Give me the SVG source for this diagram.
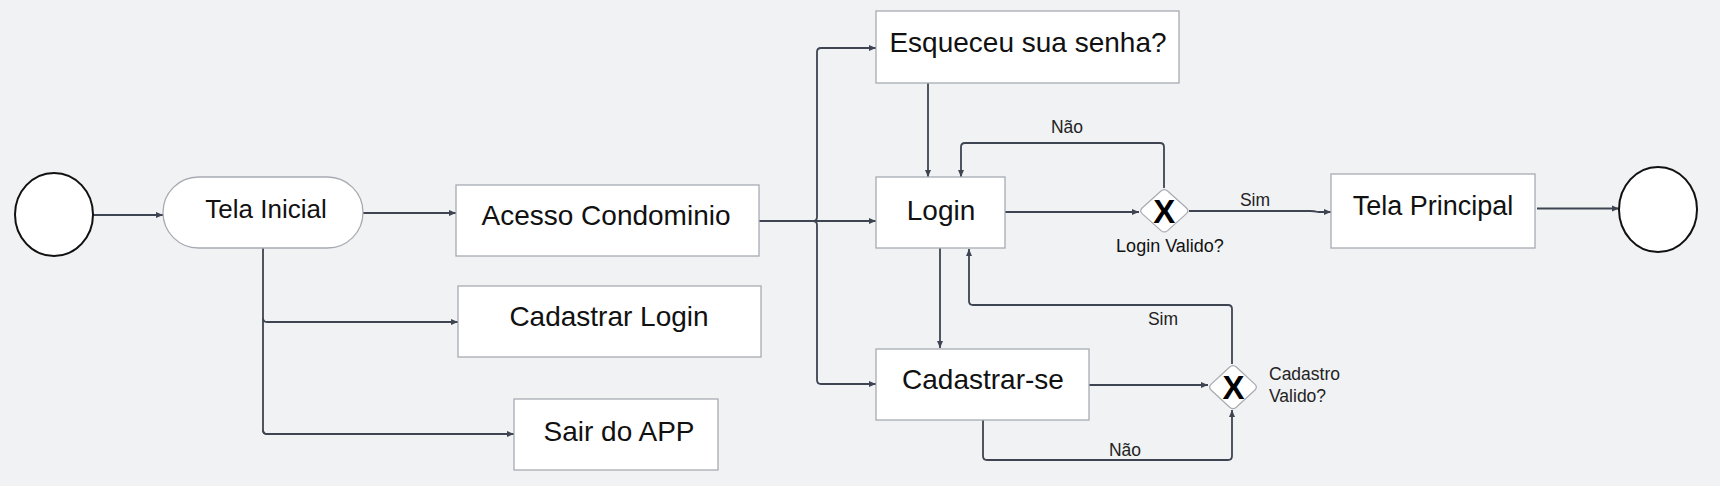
<svg xmlns="http://www.w3.org/2000/svg" width="1720" height="486" viewBox="0 0 1720 486">
<defs>
<marker id="ah" markerUnits="userSpaceOnUse" markerWidth="8" markerHeight="8" refX="7" refY="4" orient="auto">
<path d="M0,1 L7,4 L0,7 Z" fill="#3e4451"/>
</marker>
<style>
.bg{fill:#f1f2f4}
.box{fill:#ffffff;stroke:#a7abb1;stroke-width:1.3}
.circ{fill:#ffffff;stroke:#111111;stroke-width:2}
.gw{fill:#ffffff;stroke:#a7abb1;stroke-width:1.2}
.t{font-family:"Liberation Sans",Arial,sans-serif;fill:#111111;text-anchor:middle}
.big{font-size:28px}
.mid{font-size:26px}
.sm{font-size:18px}
.lbl{font-family:"Liberation Sans",Arial,sans-serif;fill:#222222;font-size:17.5px}
.x{font-family:"Liberation Sans",Arial,sans-serif;font-weight:bold;font-size:33px;fill:#000000;text-anchor:middle}
.c{fill:none;stroke:#3e4451;stroke-width:1.8;marker-end:url(#ah)}
.cn{fill:none;stroke:#3e4451;stroke-width:1.8}
</style>
</defs>
<rect class="bg" x="0" y="0" width="1720" height="486"/>

<g id="connectors">
<path class="c" d="M93 215 H163"/>
<path class="c" d="M363 213 H456"/>
<path class="cn" d="M263 248 V430 Q263 434 267 434 H514"/>
<path class="c" d="M263 318 Q263 322 267 322 H458"/>
<path class="c" d="M263 430 Q263 434 267 434 H514"/>
<path class="c" d="M759 221 H876"/>
<path class="c" d="M759 221 H813 Q817 221 817 217 V52 Q817 48 821 48 H876"/>
<path class="c" d="M759 221 H813 Q817 221 817 225 V380 Q817 384 821 384 H876"/>
<path class="c" d="M928 83 V177"/>
<path class="c" d="M1005 212 H1139"/>
<path class="c" d="M1164 188 V147 Q1164 143 1160 143 H965 Q961 143 961 147 V177"/>
<path class="c" d="M1189 211 H1310 Q1314 211 1318 212 H1331"/>
<path class="c" d="M1537 208.5 H1619"/>
<path class="c" d="M940 248 V348"/>
<path class="c" d="M1089 385 H1208"/>
<path class="c" d="M1232 364 V309 Q1232 305 1228 305 H973 Q969 305 969 301 V249"/>
<path class="c" d="M983 420 V456 Q983 460 987 460 H1228 Q1232 460 1232 456 V410"/>
<text class="lbl" x="1067" y="133" text-anchor="middle">Não</text>
<text class="lbl" x="1255" y="206" text-anchor="middle">Sim</text>
<text class="lbl" x="1163" y="325" text-anchor="middle">Sim</text>
<text class="lbl" x="1125" y="456" text-anchor="middle">Não</text>
</g>

<g id="start">
<ellipse class="circ" cx="54" cy="214.5" rx="39" ry="41.5"/>
</g>

<g id="tela-inicial">
<rect class="box" x="163" y="177" width="200" height="71" rx="35.5" ry="35.5"/>
<text class="t mid" x="266" y="218">Tela Inicial</text>
</g>

<g id="acesso-condominio">
<rect class="box" x="456" y="185" width="303" height="71"/>
<text class="t big" x="606" y="225">Acesso Condominio</text>
</g>

<g id="cadastrar-login">
<rect class="box" x="458" y="286" width="303" height="71"/>
<text class="t big" x="609" y="326">Cadastrar Login</text>
</g>

<g id="sair-app">
<rect class="box" x="514" y="399" width="204" height="71"/>
<text class="t big" x="619" y="441">Sair do APP</text>
</g>

<g id="esqueceu-senha">
<rect class="box" x="876" y="11" width="303" height="72"/>
<text class="t big" x="1028" y="52">Esqueceu sua senha?</text>
</g>

<g id="login">
<rect class="box" x="876" y="177" width="129" height="71"/>
<text class="t big" x="941" y="220">Login</text>
</g>

<g id="cadastrar-se">
<rect class="box" x="876" y="349" width="213" height="71"/>
<text class="t big" x="983" y="389">Cadastrar-se</text>
</g>

<g id="gateway-login">
<path class="gw" d="M1161 191 Q1164.3 188.3 1167.6 191 L1186.5 208 Q1189.3 210.8 1186.5 213.6 L1167.6 230.6 Q1164.3 233.3 1161 230.6 L1142.1 213.6 Q1139.3 210.8 1142.1 208 Z"/>
<text class="x" x="1164.3" y="223">X</text>
<text class="t sm" x="1170" y="252">Login Valido?</text>
</g>

<g id="tela-principal">
<rect class="box" x="1331" y="174" width="204" height="74"/>
<text class="t" x="1433" y="215" font-size="27">Tela Principal</text>
</g>

<g id="end">
<ellipse class="circ" cx="1658" cy="209.5" rx="39" ry="42.5"/>
</g>

<g id="gateway-cadastro">
<path class="gw" d="M1229.7 367 Q1233 364.3 1236.3 367 L1255 384.4 Q1257.7 387.2 1255 390 L1236.3 407.3 Q1233 410 1229.7 407.3 L1211 390 Q1208.3 387.2 1211 384.4 Z"/>
<text class="x" x="1233.5" y="399">X</text>
<text class="lbl" x="1269" y="380" font-size="18">Cadastro</text>
<text class="lbl" x="1269" y="402" font-size="18">Valido?</text>
</g>
</svg>
